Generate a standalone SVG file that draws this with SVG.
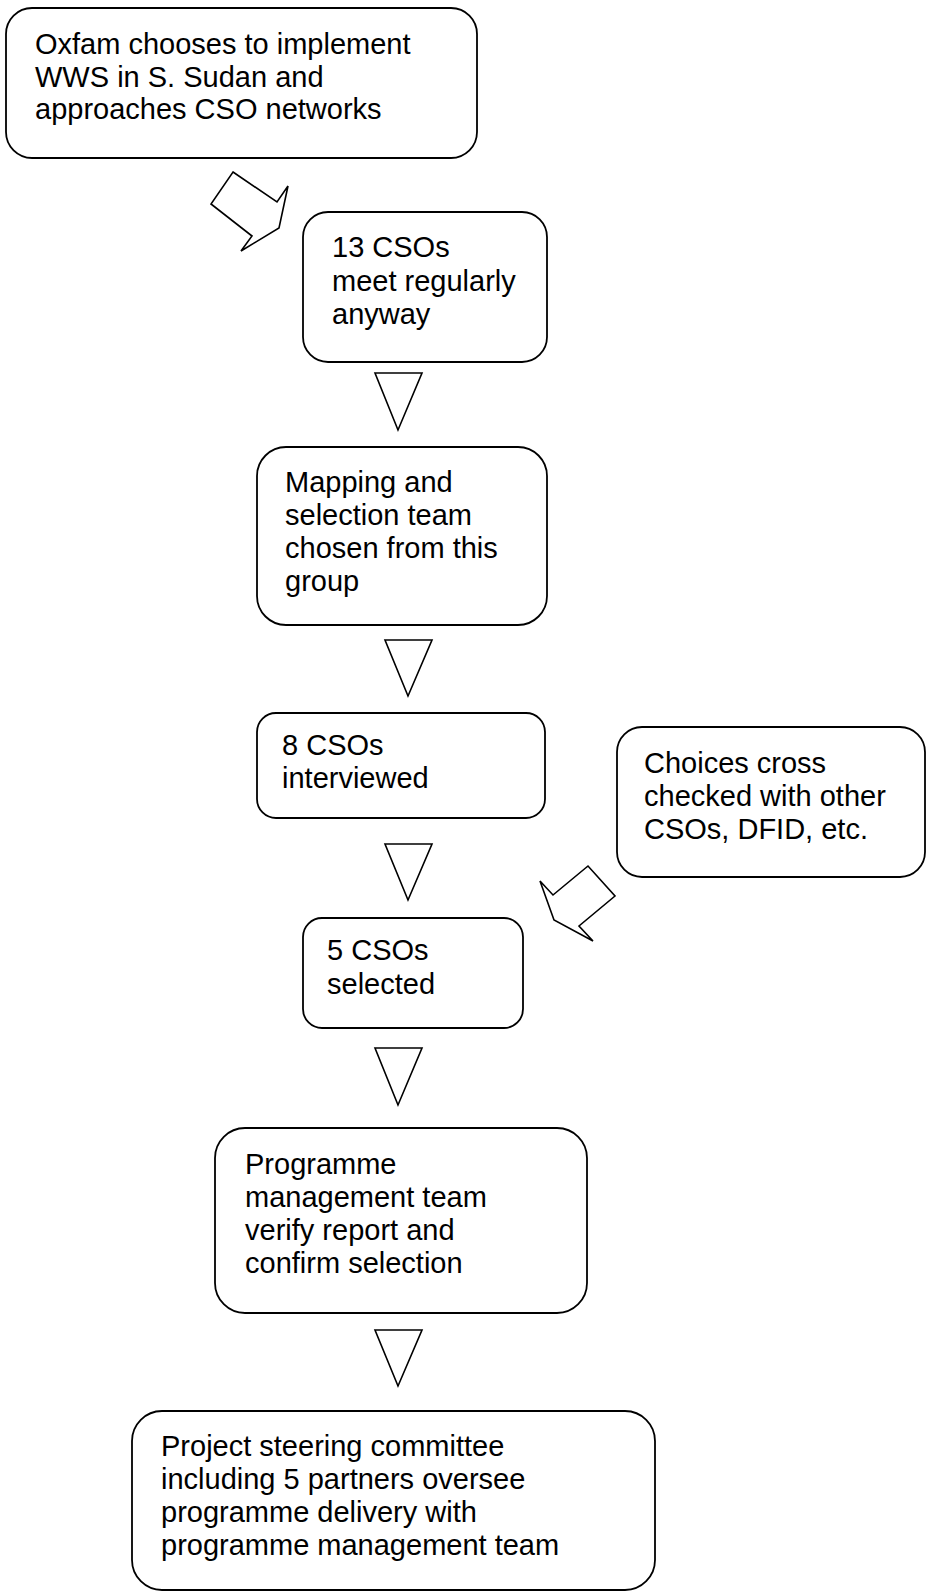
<svg xmlns="http://www.w3.org/2000/svg" width="927" height="1593" viewBox="0 0 927 1593">
<style>
.box{fill:#fff;stroke:#000;stroke-width:1.8}
.arr{fill:#fff;stroke:#000;stroke-width:1.6;stroke-linejoin:miter}
text{font-family:"Liberation Sans",Arial,sans-serif;font-size:29px;fill:#000}
</style>
<rect width="927" height="1593" fill="#fff"/>
<g id="connectors">
<polygon class="arr" points="233,172 277,202 288,186 279,228 241,251 252,236 211,204"/>
<polygon class="arr" points="375,373 422,373 398,430"/>
<polygon class="arr" points="385,640 432,640 408,696"/>
<polygon class="arr" points="385,844 432,844 408,900"/>
<polygon class="arr" points="553,895 588,866 615,896 579,926 593,941 554,920 540,881"/>
<polygon class="arr" points="375,1048 422,1048 398,1105"/>
<polygon class="arr" points="375,1330 422,1330 398,1386"/>
</g>
<g id="n1">
<rect class="box" x="6" y="8" width="471" height="150" rx="26"/>
<text><tspan x="35" y="54">Oxfam chooses to implement</tspan><tspan x="35" y="86.5">WWS in S. Sudan and</tspan><tspan x="35" y="119">approaches CSO networks</tspan></text>
</g>
<g id="n2">
<rect class="box" x="303" y="212" width="244" height="150" rx="25"/>
<text><tspan x="332" y="257">13 CSOs</tspan><tspan x="332" y="290.5">meet regularly</tspan><tspan x="332" y="324">anyway</tspan></text>
</g>
<g id="n3">
<rect class="box" x="257" y="447" width="290" height="178" rx="29"/>
<text><tspan x="285" y="492">Mapping and</tspan><tspan x="285" y="525">selection team</tspan><tspan x="285" y="558">chosen from this</tspan><tspan x="285" y="591">group</tspan></text>
</g>
<g id="n4">
<rect class="box" x="257" y="713" width="288" height="105" rx="19"/>
<text><tspan x="282" y="755">8 CSOs</tspan><tspan x="282" y="788">interviewed</tspan></text>
</g>
<g id="n5">
<rect class="box" x="617" y="727" width="308" height="150" rx="25"/>
<text><tspan x="644" y="773">Choices cross</tspan><tspan x="644" y="806">checked with other</tspan><tspan x="644" y="839">CSOs, DFID, etc.</tspan></text>
</g>
<g id="n6">
<rect class="box" x="303" y="918" width="220" height="110" rx="19"/>
<text><tspan x="327" y="960">5 CSOs</tspan><tspan x="327" y="994">selected</tspan></text>
</g>
<g id="n7">
<rect class="box" x="215" y="1128" width="372" height="185" rx="30"/>
<text><tspan x="245" y="1174">Programme</tspan><tspan x="245" y="1207">management team</tspan><tspan x="245" y="1240">verify report and</tspan><tspan x="245" y="1273">confirm selection</tspan></text>
</g>
<g id="n8">
<rect class="box" x="132" y="1411" width="523" height="179" rx="30"/>
<text><tspan x="161" y="1456">Project steering committee</tspan><tspan x="161" y="1489">including 5 partners oversee</tspan><tspan x="161" y="1522">programme delivery with</tspan><tspan x="161" y="1555">programme management team</tspan></text>
</g>
</svg>
